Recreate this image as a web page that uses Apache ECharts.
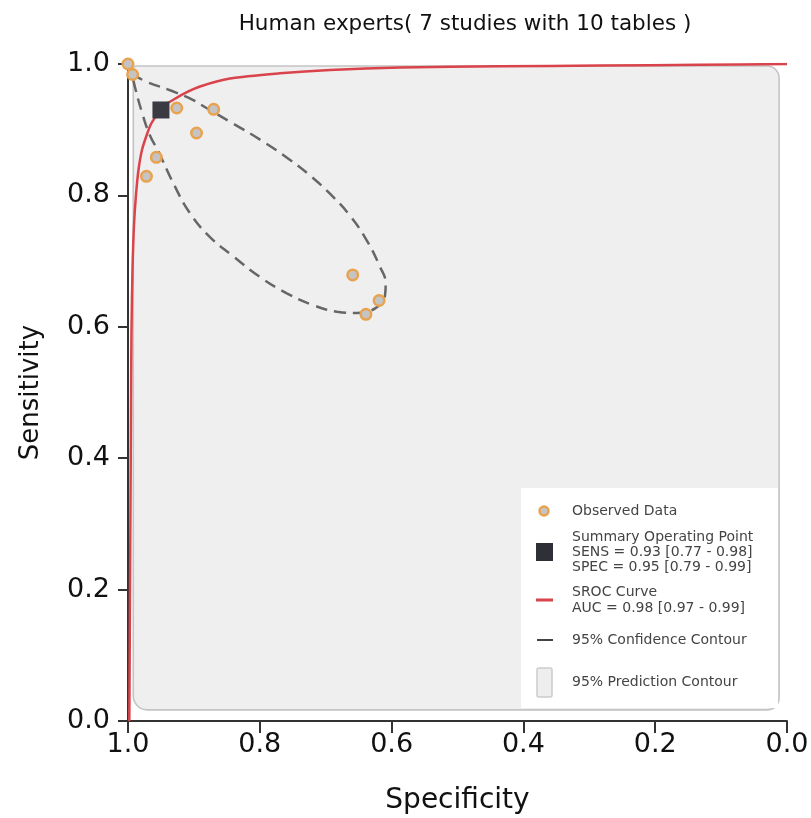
<!DOCTYPE html>
<html>
<head>
<meta charset="utf-8">
<script src="https://cdn.jsdelivr.net/npm/echarts@6/dist/echarts.min.js"></script>
<style>
html,body{margin:0;padding:0;background:#fff;}
#chart{width:811px;height:818px;}
</style>
</head>
<body>
<div id="chart"></div>
<script>
// ---- data ----
const chartTitle = 'Human experts( 7 studies with 10 tables )';
const xTitle = 'Specificity';
const yTitle = 'Sensitivity';

// observed study points
const obsSpec = [1.000, 0.993, 0.926, 0.870, 0.896, 0.957, 0.972, 0.659, 0.619, 0.639];
const obsSens = [1.000, 0.984, 0.933, 0.931, 0.895, 0.858, 0.829, 0.679, 0.640, 0.619];

// summary operating point
const summarySpec = [0.95];
const summarySens = [0.93];

// SROC curve
const srocSpec = [0.998, 0.997, 0.996, 0.9954, 0.9947, 0.9932, 0.9909, 0.9879, 0.9841, 0.9788, 0.9716, 0.9651, 0.9564, 0.9469, 0.9363, 0.9165, 0.8907, 0.8452, 0.7693, 0.6935, 0.5873, 0.4355, 0.2838, 0.1320, 0.000];
const srocSens = [0.000, 0.184, 0.367, 0.4886, 0.5951, 0.6865, 0.7549, 0.8006, 0.8387, 0.8691, 0.8919, 0.9087, 0.9224, 0.9368, 0.9426, 0.9543, 0.9658, 0.9779, 0.9858, 0.9909, 0.9947, 0.9965, 0.9977, 0.9988, 1.000];

// 95% confidence contour
const confSpec = [0.994, 0.972, 0.936, 0.901, 0.881, 0.845, 0.795, 0.754, 0.721, 0.692, 0.663, 0.638, 0.618, 0.609, 0.610, 0.625, 0.653, 0.683, 0.719, 0.759, 0.800, 0.840, 0.876, 0.906, 0.931, 0.954, 0.967, 0.979, 0.989, 0.994];
const confSens = [0.985, 0.973, 0.960, 0.945, 0.933, 0.912, 0.882, 0.854, 0.828, 0.801, 0.769, 0.732, 0.692, 0.666, 0.648, 0.628, 0.621, 0.623, 0.633, 0.651, 0.676, 0.707, 0.737, 0.773, 0.818, 0.867, 0.892, 0.927, 0.963, 0.985];

// 95% prediction contour extent: [spec left, spec right, sens top, sens bottom]
const predExtent = [0.992, 0.012, 0.997, 0.017];

// legend texts
const legendObs = 'Observed Data';
const legendSummary = ['Summary Operating Point', 'SENS = 0.93 [0.77 - 0.98]', 'SPEC = 0.95 [0.79 - 0.99]'];
const legendSroc = ['SROC Curve', 'AUC = 0.98 [0.97 - 0.99]'];
const legendConf = '95% Confidence Contour';
const legendPred = '95% Prediction Contour';

const tickValues = [0, 0.2, 0.4, 0.6, 0.8, 1.0];

// ---- build ----
const zip = (a, b) => a.map((v, i) => [v, b[i]]);
const FONT = '"DejaVu Sans", "Liberation Sans", Arial, sans-serif';

const chart = echarts.init(document.getElementById('chart'));

const legendX = 572;
const lt = (text, y) => ({
  type: 'text', x: legendX, y: y, z: 101,
  style: { text: text, fontSize: 14, fontFamily: FONT, fill: '#444', verticalAlign: 'middle', align: 'left' }
});

const option = {
  backgroundColor: '#ffffff',
  animation: false,
  title: {
    text: chartTitle,
    left: 460, top: 8, textAlign: 'center',
    textStyle: { fontSize: 21.5, fontWeight: 'normal', color: '#111', fontFamily: FONT }
  },
  grid: { left: 128, right: 24, top: 64, bottom: 97, containLabel: false, outerBoundsMode: 'none' },
  xAxis: {
    type: 'value', min: 0, max: 1, interval: 0.2, inverse: true,
    name: xTitle, nameLocation: 'middle', nameGap: 66,
    nameTextStyle: { fontSize: 28, color: '#111', fontFamily: FONT },
    axisLine: { show: true, onZero: false, lineStyle: { color: '#333', width: 2 } },
    axisTick: { show: true, length: 12, lineStyle: { color: '#333', width: 2 } },
    axisLabel: { fontSize: 27, color: '#111', fontFamily: FONT, margin: 10,
      formatter: v => tickValues.includes(Math.round(v * 10) / 10) ? v.toFixed(1) : '' },
    splitLine: { show: false }
  },
  yAxis: {
    type: 'value', min: 0, max: 1, interval: 0.2,
    name: yTitle, nameLocation: 'middle', nameGap: 84, nameRotate: 90,
    nameTextStyle: { fontSize: 26, color: '#111', fontFamily: FONT },
    axisLine: { show: true, onZero: false, lineStyle: { color: '#333', width: 2 } },
    axisTick: { show: true, length: 10, lineStyle: { color: '#333', width: 2 } },
    axisLabel: { fontSize: 27, color: '#111', fontFamily: FONT, margin: 18,
      formatter: v => v.toFixed(1) },
    splitLine: { show: false }
  },
  series: [
    {
      name: legendPred, type: 'custom', z: 1, silent: true,
      data: [predExtent],
      encode: { x: [0, 1], y: [2, 3] },
      renderItem: function (params, api) {
        const p1 = api.coord([api.value(0), api.value(2)]);
        const p2 = api.coord([api.value(1), api.value(3)]);
        return {
          type: 'rect',
          shape: { x: p1[0], y: p1[1], width: p2[0] - p1[0], height: p2[1] - p1[1], r: [3, 12, 12, 14] },
          style: { fill: '#efefef', stroke: '#c4c4c4', lineWidth: 1.6 }
        };
      }
    },
    {
      name: legendConf, type: 'line', z: 3,
      data: zip(confSpec, confSens),
      smooth: 0.45, symbol: 'none',
      lineStyle: { color: '#666', width: 2.5, type: [12, 7] }
    },
    {
      name: 'SROC Curve', type: 'line', z: 4,
      data: zip(srocSpec, srocSens),
      smooth: 0.25, symbol: 'none',
      lineStyle: { color: '#d9434b', width: 2.5 }
    },
    {
      name: legendObs, type: 'scatter', z: 5,
      data: zip(obsSpec, obsSens),
      symbol: 'circle', symbolSize: 10.5,
      itemStyle: { color: '#c4c4c4', borderColor: '#e9a24e', borderWidth: 2.5, opacity: 1 }
    },
    {
      name: 'Summary Operating Point', type: 'scatter', z: 6,
      data: zip(summarySpec, summarySens),
      symbol: 'rect', symbolSize: 17,
      itemStyle: { color: '#3a3a42', opacity: 1 }
    }
  ],
  graphic: [
    { type: 'rect', z: 100, shape: { x: 521, y: 488, width: 257, height: 220 }, style: { fill: '#ffffff' } },
    { type: 'circle', z: 101, shape: { cx: 544, cy: 511, r: 4.5 }, style: { fill: '#c4c4c4', stroke: '#e9a24e', lineWidth: 2.5 } },
    lt(legendObs, 511),
    { type: 'rect', z: 101, shape: { x: 536, y: 543, width: 17, height: 18 }, style: { fill: '#2f2f38' } },
    lt(legendSummary[0], 537),
    lt(legendSummary[1], 552),
    lt(legendSummary[2], 567),
    { type: 'line', z: 101, shape: { x1: 536, y1: 600, x2: 553, y2: 600 }, style: { stroke: '#d9434b', lineWidth: 3 } },
    lt(legendSroc[0], 592),
    lt(legendSroc[1], 608),
    { type: 'line', z: 101, shape: { x1: 537, y1: 640, x2: 553, y2: 640 }, style: { stroke: '#444', lineWidth: 2 } },
    lt(legendConf, 640),
    { type: 'rect', z: 101, shape: { x: 537, y: 668, width: 15, height: 29, r: 2 }, style: { fill: '#eeeeee', stroke: '#cccccc', lineWidth: 1.5 } },
    lt(legendPred, 682)
  ]
};

chart.setOption(option);
</script>
</body>
</html>
